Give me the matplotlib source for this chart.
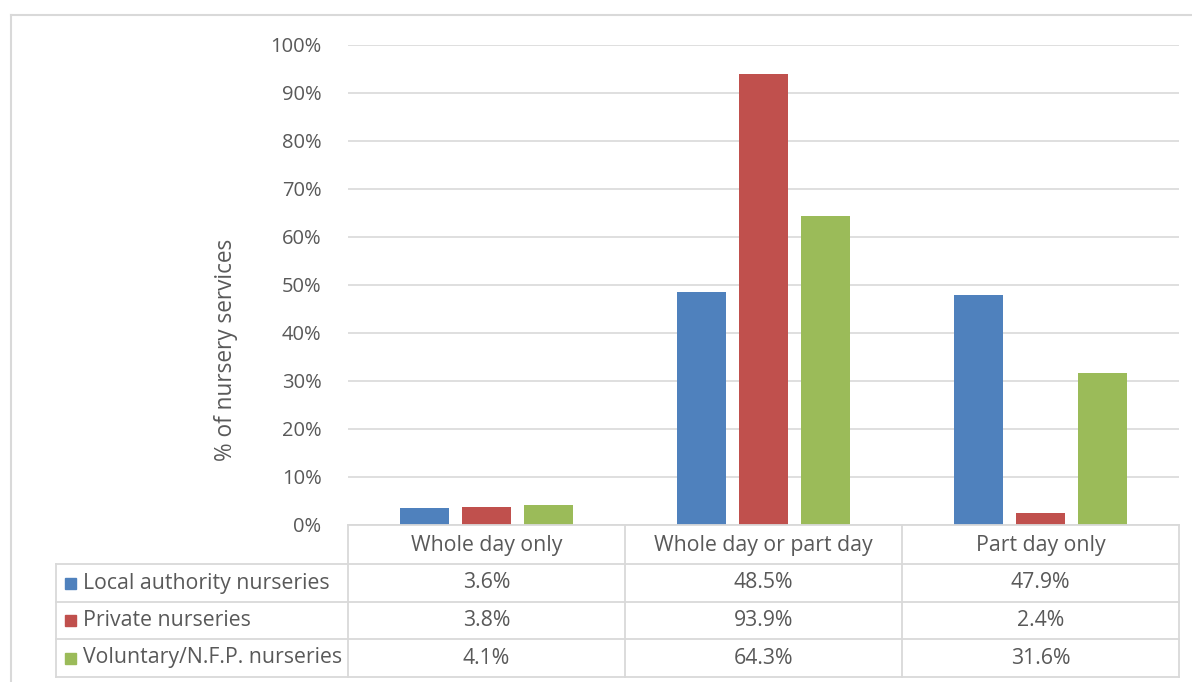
import matplotlib.pyplot as plt
from matplotlib.lines import Line2D
from matplotlib.patches import Rectangle
import numpy as np

categories = ["Whole day only", "Whole day or part day", "Part day only"]
series = ["Local authority nurseries", "Private nurseries", "Voluntary/N.F.P. nurseries"]
local_authority = [3.6, 48.5, 47.9]
private = [3.8, 93.9, 2.4]
voluntary = [4.1, 64.3, 31.6]
values = [local_authority, private, voluntary]
colors = ["#4f81bd", "#c0504d", "#9bbb59"]

W, H = 1192, 682
plt.rcParams['font.family'] = ['Open Sans', 'DejaVu Sans']
txt = "#595959"
grid = "#d9d9d9"

fig = plt.figure(figsize=(W / 100, H / 100), dpi=100)

def fx(x):
    return x / W

def fy(y):
    return 1 - y / H

# plot area in pixels
px0, px1 = 348, 1179
py_top, py_bot = 45, 525
ax = fig.add_axes([fx(px0), fy(py_bot), fx(px1 - px0), (py_bot - py_top) / H])

x = np.arange(len(categories))
bw = 0.177
step = 0.223
for i, (vals, c) in enumerate(zip(values, colors)):
    ax.bar(x + (i - 1) * step, vals, width=bw, color=c, zorder=3)

ax.set_xlim(-0.5, 2.5)
ax.set_ylim(0, 100)
ax.set_yticks(np.arange(0, 101, 10))
ax.set_yticklabels([f"{v}%" for v in range(0, 101, 10)])
ax.tick_params(axis='y', length=0, pad=19, labelsize=14.5, labelcolor=txt)
ax.set_xticks([])
ax.yaxis.grid(True, color=grid, linewidth=1.2, zorder=0)
for s in ax.spines.values():
    s.set_visible(False)

fig.text(fx(226), fy(350), "% of nursery services", rotation=90, ha='center', va='center',
         fontsize=16.3, color=txt)

# outer chart frame
fig.add_artist(Line2D([fx(11), fx(W)], [fy(15), fy(15)], color=grid, lw=1.5))
fig.add_artist(Line2D([fx(11), fx(11)], [fy(15), fy(H)], color=grid, lw=1.5))

# data table
col_x = [56, 348, 625, 902, 1179]
row_y = [525, 564, 602, 639, 677]
tl = dict(color=grid, lw=1.3)
fig.add_artist(Line2D([fx(348), fx(1179)], [fy(525), fy(525)], **tl))
for yy in row_y[1:]:
    fig.add_artist(Line2D([fx(56), fx(1179)], [fy(yy), fy(yy)], **tl))
for xx in col_x[1:]:
    fig.add_artist(Line2D([fx(xx), fx(xx)], [fy(525), fy(677)], **tl))
fig.add_artist(Line2D([fx(56), fx(56)], [fy(564), fy(677)], **tl))

fs = 15.3
for j, cat in enumerate(categories):
    cx = (col_x[j + 1] + col_x[j + 2]) / 2
    fig.text(fx(cx), fy((row_y[0] + row_y[1]) / 2 + 1), cat, ha='center', va='center',
             fontsize=fs, color=txt)

for i, (name, vals, c) in enumerate(zip(series, values, colors)):
    cy = (row_y[i + 1] + row_y[i + 2]) / 2
    fig.add_artist(Rectangle((fx(65), fy(cy + 5.5)), fx(11), 11 / H, color=c))
    fig.text(fx(83), fy(cy), name, ha='left', va='center', fontsize=fs, color=txt)
    for j, v in enumerate(vals):
        cx = (col_x[j + 1] + col_x[j + 2]) / 2
        fig.text(fx(cx), fy(cy), f"{v:.1f}%", ha='center', va='center', fontsize=fs, color=txt)

fig.savefig("out.png", dpi=100)
